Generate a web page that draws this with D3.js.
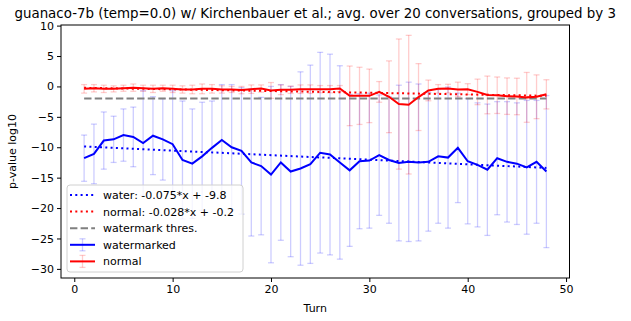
<!DOCTYPE html>
<html>
<head>
<meta charset="utf-8">
<script src="https://cdn.jsdelivr.net/npm/d3@7"></script>
<style>
  body { margin: 0; background: #fff; }
  svg { font-family: "DejaVu Sans", sans-serif; }
</style>
</head>
<body>
<svg id="chart"></svg>
<script>
// turns 1..48
const turns = d3.range(1, 49);

const waterMean = [-11.8, -11.1, -8.9, -8.7, -8.0, -8.3, -9.3, -8.1, -8.7, -9.5,
  -12.1, -12.7, -11.5, -10.1, -8.8, -10.0, -10.6, -12.5, -13.1, -14.5,
  -12.5, -14.0, -13.5, -12.8, -10.9, -11.2, -12.5, -13.8, -12.3, -12.2,
  -11.3, -12.1, -12.6, -12.4, -12.5, -12.4, -11.5, -11.7, -10.1, -12.3,
  -12.9, -13.7, -11.8, -12.4, -12.7, -13.3, -12.4, -14.0];
const waterErr = [3.8, 4.9, 4.7, 3.8, 4.3, 4.9, 8.6, 6.4, 6.7, 8.8,
  9.7, 9.0, 8.9, 7.7, 9.1, 10.3, 10.4, 12.1, 11.3, 14.5,
  12.8, 14.0, 15.9, 16.3, 16.5, 16.5, 15.9, 12.5, 11.1, 11.1,
  9.9, 10.4, 12.8, 13.1, 12.9, 11.4, 11.0, 11.6, 9.0, 10.3,
  10.2, 10.8, 9.3, 9.9, 10.0, 11.0, 10.1, 12.5];

const normalMean = [-0.4, -0.3, -0.4, -0.4, -0.3, -0.2, -0.3, -0.4, -0.3, -0.4,
  -0.5, -0.5, -0.4, -0.4, -0.5, -0.5, -0.6, -0.45, -0.35, -0.66,
  -0.55, -0.55, -0.45, -0.45, -0.45, -0.45, -0.35, -1.55, -1.55, -1.55,
  -0.9, -1.7, -2.9, -3.0, -1.75, -0.66, -0.4, -0.35, -0.5, -0.45,
  -0.9, -1.4, -1.45, -1.6, -1.65, -1.8, -1.7, -1.3];
const normalErr = [0.7, 0.6, 0.6, 0.5, 0.5, 0.6, 0.5, 0.6, 0.5, 0.6,
  0.6, 0.7, 0.8, 0.7, 0.6, 0.5, 0.6, 0.7, 0.6, 1.3,
  0.8, 0.6, 0.7, 0.7, 0.6, 0.6, 0.5, 4.9, 4.7, 4.4,
  1.7, 5.9, 10.7, 11.4, 5.5, 1.7, 0.7, 0.7, 1.2, 0.9,
  2.1, 3.1, 3.0, 3.0, 3.0, 4.1, 3.6, 2.4];

// linear fits as given in the legend
const fitNames = ["water", "normal"];
const fitSlope = [-0.075, -0.028];
const fitIntercept = [-9.8, -0.2];
const threshold = -2;

const xTicks = [0, 10, 20, 30, 40, 50];
const yTicks = [10, 5, 0, -5, -10, -15, -20, -25, -30];

const width = 631;
const height = 321;
const margin = { left: 61, right: 61.5, top: 25, bottom: 43 };

const svg = d3.select("#chart").attr("width", width).attr("height", height);

const x = d3.scaleLinear().domain([-1.35, 50.35]).range([margin.left, width - margin.right]);
const y = d3.scaleLinear().domain([-31.5, 10.1]).range([height - margin.bottom, margin.top]);

const fmt = (d) => (d < 0 ? "\u2212" + Math.abs(d) : String(d));

// error bars
const drawErr = (mean, err, color) => {
  const g = svg.append("g").attr("stroke", color).attr("stroke-opacity", 0.2).attr("stroke-width", 1.3);
  turns.forEach((t, i) => {
    const lo = y(mean[i] - err[i]);
    const hi = y(mean[i] + err[i]);
    g.append("line").attr("x1", x(t)).attr("x2", x(t)).attr("y1", lo).attr("y2", hi);
    g.append("line").attr("x1", x(t) - 3).attr("x2", x(t) + 3).attr("y1", lo).attr("y2", lo);
    g.append("line").attr("x1", x(t) - 3).attr("x2", x(t) + 3).attr("y1", hi).attr("y2", hi);
  });
};
drawErr(waterMean, waterErr, "blue");
drawErr(normalMean, normalErr, "red");

// fit lines
const fitColors = ["blue", "red"];
fitNames.forEach((n, k) => {
  const x0 = turns[0], x1 = turns[turns.length - 1];
  svg.append("line")
    .attr("x1", x(x0)).attr("x2", x(x1))
    .attr("y1", y(fitSlope[k] * x0 + fitIntercept[k]))
    .attr("y2", y(fitSlope[k] * x1 + fitIntercept[k]))
    .attr("stroke", fitColors[k])
    .attr("stroke-width", 2)
    .attr("stroke-dasharray", "2,3.3");
});

// threshold
svg.append("line")
  .attr("x1", x(turns[0])).attr("x2", x(turns[turns.length - 1]))
  .attr("y1", y(threshold)).attr("y2", y(threshold))
  .attr("stroke", "gray")
  .attr("stroke-width", 2)
  .attr("stroke-dasharray", "7.4,3.2");

// mean lines
const line = d3.line().x((d, i) => x(turns[i])).y((d) => y(d));
svg.append("path").datum(waterMean).attr("d", line)
  .attr("fill", "none").attr("stroke", "blue").attr("stroke-width", 2);
svg.append("path").datum(normalMean).attr("d", line)
  .attr("fill", "none").attr("stroke", "red").attr("stroke-width", 2);

// frame
svg.append("rect")
  .attr("x", margin.left).attr("y", margin.top)
  .attr("width", width - margin.left - margin.right)
  .attr("height", height - margin.top - margin.bottom)
  .attr("fill", "none").attr("stroke", "#000").attr("stroke-width", 1);

// axes
const xAxis = d3.axisBottom(x).tickValues(xTicks).tickSize(4).tickPadding(3).tickFormat(fmt);
const yAxis = d3.axisLeft(y).tickValues(yTicks).tickSize(4).tickPadding(3).tickFormat(fmt);

const gx = svg.append("g").attr("transform", `translate(0, ${height - margin.bottom})`).call(xAxis);
const gy = svg.append("g").attr("transform", `translate(${margin.left}, 0)`).call(yAxis);
[gx, gy].forEach((g) => {
  g.select(".domain").remove();
  g.selectAll("text").attr("font-size", 11).attr("font-family", "DejaVu Sans").attr("fill", "#000");
  g.selectAll("line").attr("stroke", "#000");
});

// labels
svg.append("text")
  .attr("x", (margin.left + width - margin.right) / 2).attr("y", 18)
  .attr("text-anchor", "middle").attr("font-size", 13.4)
  .text("guanaco-7b (temp=0.0) w/ Kirchenbauer et al.; avg. over 20 conversations, grouped by 3");

svg.append("text")
  .attr("x", (margin.left + width - margin.right) / 2).attr("y", 312)
  .attr("text-anchor", "middle").attr("font-size", 11)
  .text("Turn");

svg.append("text")
  .attr("transform", `translate(16, ${(margin.top + height - margin.bottom) / 2}) rotate(-90)`)
  .attr("text-anchor", "middle").attr("font-size", 11)
  .text("p-value log10");

// legend
const legendItems = [
  { label: `water: ${fitSlope[0]}*x + ${fitIntercept[0]}`, color: "blue", kind: "dot" },
  { label: `normal: ${fitSlope[1]}*x + ${fitIntercept[1]}`, color: "red", kind: "dot" },
  { label: "watermark thres.", color: "gray", kind: "dash" },
  { label: "watermarked", color: "blue", kind: "err" },
  { label: "normal", color: "red", kind: "err" }
];
const lg = svg.append("g").attr("transform", "translate(67, 185)");
lg.append("rect")
  .attr("width", 176).attr("height", 87).attr("rx", 3)
  .attr("fill", "#fff").attr("fill-opacity", 0.8)
  .attr("stroke", "#d0d0d0").attr("stroke-width", 1);
legendItems.forEach((it, i) => {
  const cy = 10 + i * 16.6;
  const g = lg.append("g").attr("transform", `translate(0, ${cy})`);
  if (it.kind === "err") {
    g.append("line").attr("x1", 15.5).attr("x2", 15.5).attr("y1", -6).attr("y2", 6)
      .attr("stroke", it.color).attr("stroke-opacity", 0.2).attr("stroke-width", 1.3);
    g.append("line").attr("x1", 12.5).attr("x2", 18.5).attr("y1", -6).attr("y2", -6)
      .attr("stroke", it.color).attr("stroke-opacity", 0.2).attr("stroke-width", 1.3);
    g.append("line").attr("x1", 12.5).attr("x2", 18.5).attr("y1", 6).attr("y2", 6)
      .attr("stroke", it.color).attr("stroke-opacity", 0.2).attr("stroke-width", 1.3);
  }
  g.append("line").attr("x1", 3).attr("x2", 28).attr("y1", 0).attr("y2", 0)
    .attr("stroke", it.color).attr("stroke-width", 2)
    .attr("stroke-dasharray", it.kind === "dot" ? "2,3.3" : it.kind === "dash" ? "7.4,3.2" : null);
  g.append("text").attr("x", 36).attr("y", 4).attr("font-size", 11).text(it.label);
});
</script>
</body>
</html>
